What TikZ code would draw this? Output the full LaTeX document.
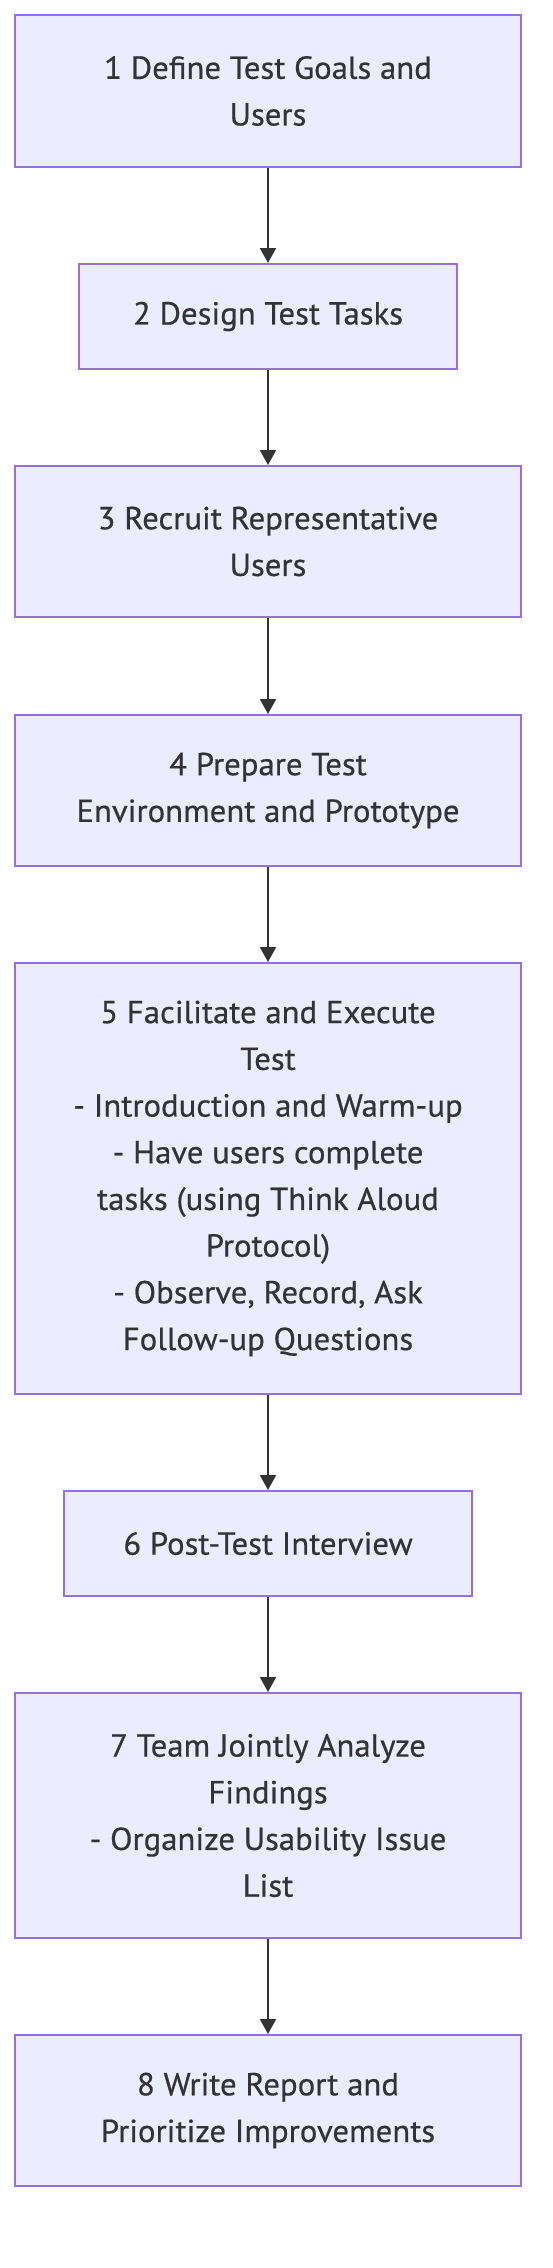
\documentclass[tikz,border=0pt]{standalone}
\usepackage{fontspec}
\setmainfont{PT Sans}
\newfontfamily\boxfont{PT Sans}[FakeStretch=1.03,FakeBold=0.5]
\usetikzlibrary{arrows.meta}
\definecolor{boxfill}{HTML}{ECECFF}
\definecolor{boxline}{HTML}{9370DB}
\definecolor{ink}{HTML}{333333}
\tikzset{
  stepbox/.style={draw=boxline, fill=boxfill, line width=2pt, rectangle,
    inner sep=0pt, align=center, text=ink,
    font=\boxfont\fontsize{31.8}{46.7}\selectfont},
  arr/.style={draw=ink, line width=2pt,
    -{Triangle[length=15pt,width=16pt]}}
}
\begin{document}
\begin{tikzpicture}[x=1pt,y=1pt]
\useasboundingbox (0,0) rectangle (552,-2268);
\node[stepbox, minimum width=506pt, minimum height=152pt] (b1) at (268,-91)
  {1 Define Test Goals and\\Users};
\node[stepbox, minimum width=378pt, minimum height=105pt] (b2) at (268,-316.5)
  {2 Design Test Tasks};
\node[stepbox, minimum width=506pt, minimum height=151pt] (b3) at (268,-541.5)
  {3 Recruit Representative\\Users};
\node[stepbox, minimum width=506pt, minimum height=151pt] (b4) at (268,-790.5)
  {4 Prepare Test\\Environment and Prototype};
\node[stepbox, minimum width=506pt, minimum height=431pt] (b5) at (268,-1178.5)
  {5 Facilitate and Execute\\Test\\- Introduction and Warm-up\\- Have users complete\\tasks (using Think Aloud\\Protocol)\\- Observe, Record, Ask\\Follow-up Questions};
\node[stepbox, minimum width=408pt, minimum height=105pt] (b6) at (268,-1543.5)
  {6 Post-Test Interview};
\node[stepbox, minimum width=506pt, minimum height=245pt] (b7) at (268,-1815.5)
  {7 Team Jointly Analyze\\Findings\\- Organize Usability Issue\\List};
\node[stepbox, minimum width=506pt, minimum height=151pt] (b8) at (268,-2110.5)
  {8 Write Report and\\Prioritize Improvements};
\draw[arr] (b1.south) -- (b2.north);
\draw[arr] (b2.south) -- (b3.north);
\draw[arr] (b3.south) -- (b4.north);
\draw[arr] (b4.south) -- (b5.north);
\draw[arr] (b5.south) -- (b6.north);
\draw[arr] (b6.south) -- (b7.north);
\draw[arr] (b7.south) -- (b8.north);
\end{tikzpicture}
\end{document}
